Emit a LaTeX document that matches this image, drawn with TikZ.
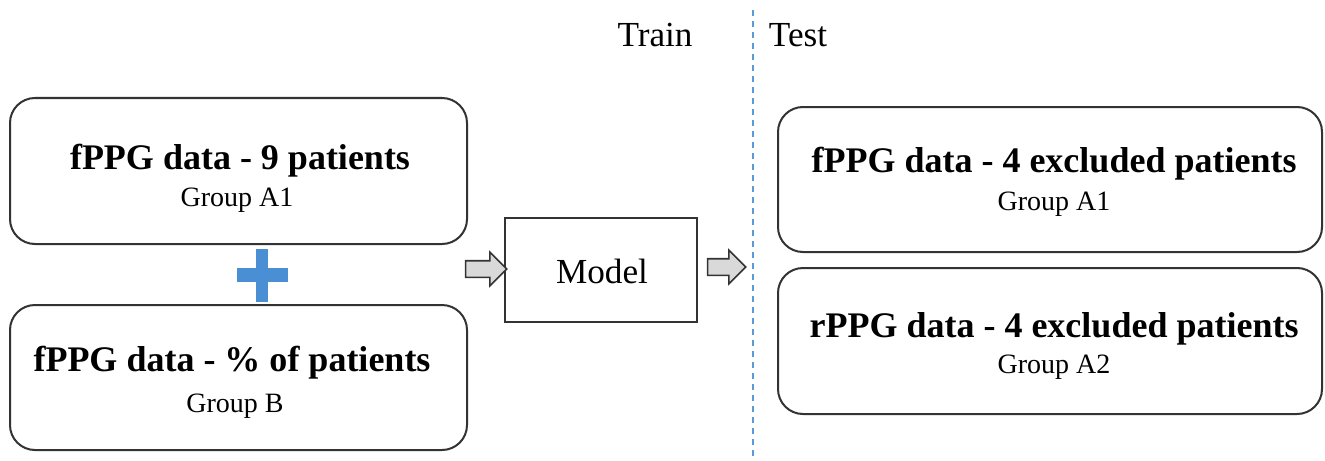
\documentclass[tikz,border=0pt]{standalone}
\usepackage{fontspec}
\setmainfont{Liberation Serif}
\usetikzlibrary{shapes.arrows}
\definecolor{plusblue}{HTML}{4A8FD4}
\definecolor{dashblue}{HTML}{5B9BD5}
\definecolor{arrowgray}{HTML}{D9D9D9}
\definecolor{edgegray}{HTML}{333333}
\begin{document}
\begin{tikzpicture}[x=0.5pt,y=-0.5pt,
  rbox/.style={draw=edgegray, line width=1pt, rounded corners=12.5pt, inner sep=0pt},
  sbox/.style={draw=edgegray, line width=1pt, inner sep=0pt},
  bigtxt/.style={font=\fontsize{18}{21}\selectfont\bfseries, inner sep=0pt},
  subtxt/.style={font=\fontsize{14}{16}\selectfont, inner sep=0pt},
  headtxt/.style={font=\fontsize{17.6}{20}\selectfont, inner sep=0pt},
  blockarrow/.style={single arrow, draw=edgegray, fill=arrowgray, line width=0.8pt,
    minimum width=16pt, inner sep=0pt, inner ysep=3.75pt, single arrow head extend=4.25pt}
]
\useasboundingbox (0,0) rectangle (1325,460);

% headers and divider
\node[headtxt] (train) at (655,35) {Train};
\node[headtxt] (test) at (798,35) {Test};
\coordinate (divtop) at (753,10);
\coordinate (divbot) at (753,460);
\draw[dashblue, line width=1pt, dash pattern=on 3pt off 2.5pt] (divtop) -- (divbot);

% left boxes
\node[rbox, minimum width=228.5pt, minimum height=73pt] (l1) at (238.5,171) {};
\node[bigtxt] (l1a) at (240,161) {fPPG data - 9 patients};
\node[subtxt] (l1b) at (237,200) {Group A1};

\node[rbox, minimum width=228.5pt, minimum height=72.5pt] (l2) at (238.5,377.5) {};
\node[bigtxt] (l2a) at (232,363) {fPPG data - \% of patients};
\node[subtxt] (l2b) at (235,406) {Group B};

% plus sign
\fill[plusblue] (256,249) rectangle (268,302);
\fill[plusblue] (237,268) rectangle (288,282);

% model
\node[sbox, minimum width=96pt, minimum height=52pt] (model) at (601,270) {};
\node[headtxt] (modeltxt) at (602,271) {Model};

% block arrows
\node[blockarrow, minimum height=20.5pt] (a1) at (482,269) {};
\node[blockarrow, minimum height=19pt] (a2) at (722.5,267) {};

% right boxes
\node[rbox, minimum width=272pt, minimum height=72.5pt] (r1) at (1050,179.5) {};
\node[bigtxt] (r1a) at (1054,164) {fPPG data - 4 excluded patients};
\node[subtxt] (r1b) at (1054,204) {Group A1};

\node[rbox, minimum width=272pt, minimum height=73pt] (r2) at (1050,341) {};
\node[bigtxt] (r2a) at (1054,329) {rPPG data - 4 excluded patients};
\node[subtxt] (r2b) at (1054,367) {Group A2};
\end{tikzpicture}
\end{document}
